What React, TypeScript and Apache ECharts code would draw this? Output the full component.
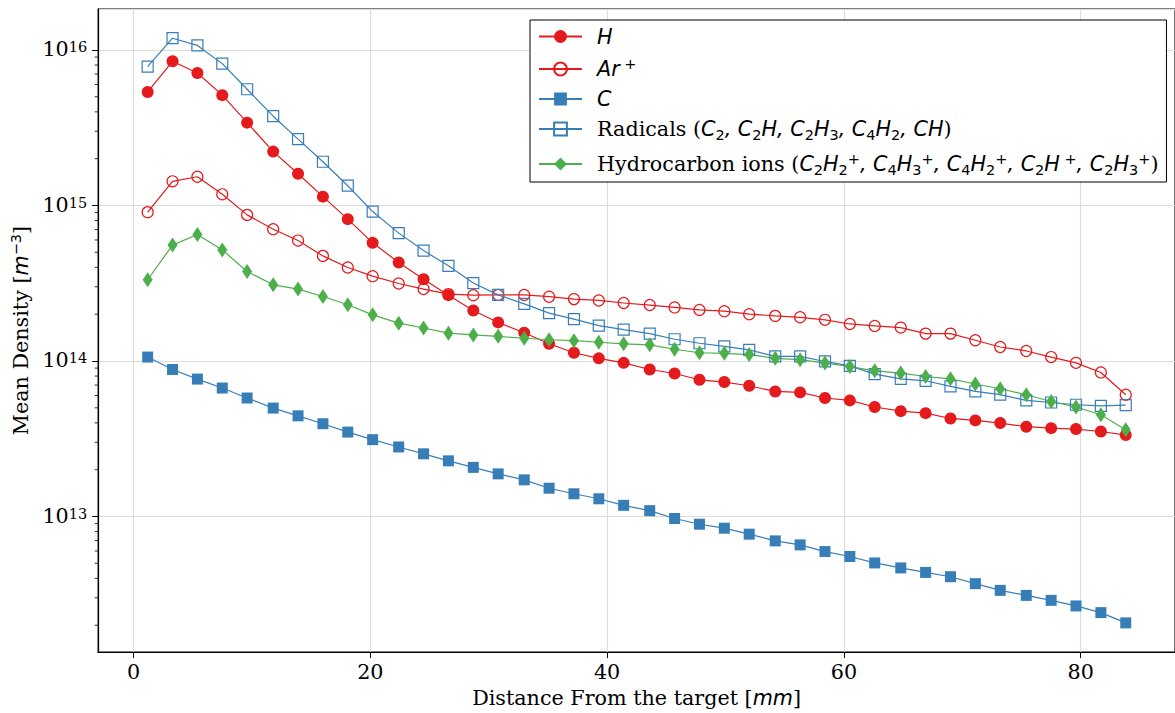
import React, { useEffect, useRef } from "react";
import * as echarts from "echarts";

// Distance from the target [mm]
const DISTANCE_MM = [
  1.2, 3.3, 5.4, 7.5, 9.6, 11.8, 13.9, 16.0, 18.1, 20.2, 22.4, 24.5, 26.6, 28.7,
  30.8, 33.0, 35.1, 37.2, 39.3, 41.4, 43.6, 45.7, 47.8, 49.9, 52.0, 54.2, 56.3,
  58.4, 60.5, 62.6, 64.8, 66.9, 69.0, 71.1, 73.2, 75.4, 77.5, 79.6, 81.7, 83.8,
];

// Mean densities [m^-3]
const H_DENSITY = [
  5.37e15, 8.46e15, 7.11e15, 5.12e15, 3.41e15, 2.22e15, 1.6e15, 1.14e15, 8.17e14,
  5.75e14, 4.3e14, 3.36e14, 2.65e14, 2.11e14, 1.77e14, 1.52e14, 1.29e14, 1.13e14,
  1.04e14, 9.73e13, 8.82e13, 8.31e13, 7.57e13, 7.32e13, 6.93e13, 6.37e13, 6.28e13,
  5.78e13, 5.58e13, 5.06e13, 4.76e13, 4.62e13, 4.27e13, 4.15e13, 3.99e13, 3.78e13,
  3.7e13, 3.65e13, 3.52e13, 3.34e13,
];
const AR_ION_DENSITY = [
  9.06e14, 1.43e15, 1.53e15, 1.18e15, 8.7e14, 7.04e14, 5.95e14, 4.74e14, 3.99e14,
  3.51e14, 3.15e14, 2.9e14, 2.69e14, 2.65e14, 2.66e14, 2.66e14, 2.59e14, 2.5e14,
  2.45e14, 2.36e14, 2.29e14, 2.21e14, 2.13e14, 2.09e14, 2.0e14, 1.95e14, 1.91e14,
  1.84e14, 1.73e14, 1.68e14, 1.64e14, 1.5e14, 1.5e14, 1.36e14, 1.23e14, 1.16e14,
  1.06e14, 9.73e13, 8.44e13, 6.07e13,
];
const C_DENSITY = [
  1.06e14, 8.82e13, 7.65e13, 6.7e13, 5.78e13, 4.98e13, 4.44e13, 3.95e13, 3.49e13,
  3.12e13, 2.8e13, 2.53e13, 2.28e13, 2.07e13, 1.88e13, 1.72e13, 1.52e13, 1.4e13,
  1.3e13, 1.18e13, 1.09e13, 9.71e12, 8.92e12, 8.41e12, 7.7e12, 6.97e12, 6.57e12,
  5.95e12, 5.53e12, 5.03e12, 4.67e12, 4.37e12, 4.1e12, 3.7e12, 3.35e12, 3.11e12,
  2.89e12, 2.66e12, 2.41e12, 2.07e12,
];
const RADICALS_DENSITY = [
  7.81e15, 1.19e16, 1.07e16, 8.17e15, 5.59e15, 3.75e15, 2.67e15, 1.91e15, 1.34e15,
  9.14e14, 6.64e14, 5.13e14, 4.09e14, 3.17e14, 2.66e14, 2.33e14, 2.03e14, 1.86e14,
  1.69e14, 1.59e14, 1.5e14, 1.38e14, 1.3e14, 1.24e14, 1.18e14, 1.07e14, 1.07e14,
  9.93e13, 9.31e13, 8.24e13, 7.68e13, 7.46e13, 6.86e13, 6.37e13, 6.07e13, 5.58e13,
  5.41e13, 5.23e13, 5.15e13, 5.21e13,
];
const HYDROCARBON_ION_DENSITY = [
  3.33e14, 5.56e14, 6.5e14, 5.18e14, 3.76e14, 3.09e14, 2.9e14, 2.6e14, 2.3e14,
  1.98e14, 1.75e14, 1.63e14, 1.51e14, 1.47e14, 1.44e14, 1.4e14, 1.37e14, 1.35e14,
  1.32e14, 1.29e14, 1.27e14, 1.19e14, 1.13e14, 1.12e14, 1.1e14, 1.04e14, 1.02e14,
  9.69e13, 9.22e13, 8.65e13, 8.36e13, 7.95e13, 7.68e13, 7.11e13, 6.63e13, 6.07e13,
  5.49e13, 5.06e13, 4.51e13, 3.61e13,
];

const SERIES_NAMES = ["H", "Ar+", "C", "Radicals", "Hydrocarbon ions"];

// axis limits
const X_MIN = -2.98;
const X_MAX = 87.96;
const Y_MIN = 1.343e12;
const Y_MAX = 1.834e16;

// log-axis minor ticks
const DECADES = [12, 13, 14, 15, 16];
const MINOR_MANTISSAS = [2, 3, 4, 5, 6, 7, 8, 9];

const RED = "#e41a1c";
const BLUE = "#377eb8";
const GREEN = "#4daf4a";

const SERIF = "DejaVu Serif";
const SANS = "DejaVu Sans";
const FS = 20.7;
const FS_SMALL = 14.5;

const LEGEND_LABELS: Record<string, string> = {
  H: "{i|H}",
  "Ar+": "{i|Ar}{sup| +}",
  C: "{i|C}",
  Radicals:
    "{r|Radicals (}{i|C}{sub|2}{i|, C}{sub|2}{i|H, C}{sub|2}{i|H}{sub|3}{i|, C}{sub|4}{i|H}{sub|2}{i|, CH}{r|)}",
  "Hydrocarbon ions":
    "{r|Hydrocarbon ions (}{i|C}{sub|2}{i|H}{sub|2}{sup|+}{i|, C}{sub|4}{i|H}{sub|3}{sup|+}{i|, C}{sub|4}{i|H}{sub|2}{sup|+}{i|, C}{sub|2}{i|H}{sup| +}{i|, C}{sub|2}{i|H}{sub|3}{sup|+}{r|)}",
};

const textRich = {
  r: { fontFamily: SERIF, fontSize: FS, lineHeight: 26, color: "#000" },
  i: { fontFamily: SANS, fontStyle: "italic", fontSize: FS, lineHeight: 26, color: "#000" },
  sub: { fontFamily: SANS, fontSize: FS_SMALL, lineHeight: 14, verticalAlign: "bottom", color: "#000" },
  sup: { fontFamily: SANS, fontSize: FS_SMALL, lineHeight: 14, verticalAlign: "top", color: "#000" },
};

export default function App() {
  const ref = useRef<HTMLDivElement>(null);

  useEffect(() => {
    if (!ref.current) return;
    const chart = echarts.init(ref.current, null, { renderer: "svg" });

    const pairs = (ys: number[]) => DISTANCE_MM.map((x, i) => [x, ys[i]]);

    const minorTicks: number[][] = [];
    DECADES.forEach((d) =>
      MINOR_MANTISSAS.forEach((m) => {
        const v = m * Math.pow(10, d);
        if (v > Y_MIN && v < Y_MAX) minorTicks.push([X_MIN, v]);
      })
    );

    const lineBase = {
      type: "line",
      showAllSymbol: true,
      emphasis: { disabled: true },
      z: 3,
    };

    const option: any = {
      animation: false,
      textStyle: { fontFamily: SERIF, color: "#000" },
      grid: {
        left: 97,
        right: -2,
        top: 9,
        bottom: 60,
        show: true,
        borderColor: "#000",
        borderWidth: 1.2,
        backgroundColor: "transparent",
      },
      legend: {
        data: SERIES_NAMES,
        orient: "vertical",
        left: 530,
        top: 20,
        padding: [6, 8, 5, 8],
        itemWidth: 43,
        itemHeight: 16,
        itemGap: 9,
        backgroundColor: "#fff",
        borderColor: "#000",
        borderWidth: 1,
        formatter: (name: string) => LEGEND_LABELS[name] || name,
        textStyle: {
          fontFamily: SERIF,
          fontSize: FS,
          color: "#000",
          padding: [0, 0, 0, 10],
          rich: textRich,
        },
        selectedMode: false,
      },
      xAxis: {
        type: "value",
        min: X_MIN,
        max: X_MAX,
        name: "{r|Distance From the target [}{i|mm}{r|]}",
        nameLocation: "middle",
        nameGap: 27,
        nameTextStyle: { rich: textRich },
        axisLine: { show: true, onZero: false, lineStyle: { color: "#000", width: 1.2 } },
        axisTick: { show: true, length: 6, lineStyle: { color: "#000", width: 1 } },
        axisLabel: {
          showMinLabel: false,
          showMaxLabel: false,
          margin: 9,
          fontFamily: SERIF,
          fontSize: FS,
          color: "#000",
        },
        splitLine: { show: true, lineStyle: { color: "#dcdcdc", width: 1.2 } },
      },
      yAxis: {
        type: "log",
        logBase: 10,
        min: Y_MIN,
        max: Y_MAX,
        name: "{r|Mean Density [}{i|m}{sup|−3}{r|]}",
        nameLocation: "middle",
        nameGap: 60,
        nameTextStyle: { rich: textRich },
        axisLine: { show: true, onZero: false, lineStyle: { color: "#000", width: 1.2 } },
        axisTick: { show: true, length: 6, lineStyle: { color: "#000", width: 1 } },
        axisLabel: {
          showMinLabel: false,
          showMaxLabel: false,
          margin: 11,
          formatter: (v: number) => {
            const l = Math.log10(v);
            const e = Math.round(l);
            if (Math.abs(l - e) > 1e-6) return "";
            return `{b|10}{s|${e}}`;
          },
          rich: {
            b: { fontFamily: SERIF, fontSize: FS, lineHeight: 20, verticalAlign: "bottom", color: "#000" },
            s: { fontFamily: SERIF, fontSize: FS_SMALL, lineHeight: 14, verticalAlign: "top", color: "#000" },
          },
        },
        splitLine: { show: true, lineStyle: { color: "#dcdcdc", width: 1.2 } },
      },
      series: [
        {
          ...lineBase,
          name: "H",
          data: pairs(H_DENSITY),
          symbol: "circle",
          symbolSize: 12,
          itemStyle: { color: RED },
          lineStyle: { color: RED, width: 1.2 },
        },
        {
          ...lineBase,
          name: "Ar+",
          data: pairs(AR_ION_DENSITY),
          symbol: "circle",
          symbolSize: 11,
          itemStyle: { color: "rgba(0,0,0,0)", borderColor: RED, borderWidth: 1.2 },
          lineStyle: { color: RED, width: 1.2 },
        },
        {
          ...lineBase,
          name: "C",
          data: pairs(C_DENSITY),
          symbol: "rect",
          symbolSize: 11,
          itemStyle: { color: BLUE },
          lineStyle: { color: BLUE, width: 1.2 },
        },
        {
          ...lineBase,
          name: "Radicals",
          data: pairs(RADICALS_DENSITY),
          symbol: "rect",
          symbolSize: 11,
          itemStyle: { color: "rgba(0,0,0,0)", borderColor: BLUE, borderWidth: 1.2 },
          lineStyle: { color: BLUE, width: 1.2 },
        },
        {
          ...lineBase,
          name: "Hydrocarbon ions",
          data: pairs(HYDROCARBON_ION_DENSITY),
          symbol: "diamond",
          symbolSize: [10, 15],
          itemStyle: { color: GREEN },
          lineStyle: { color: GREEN, width: 1.2 },
        },
        {
          type: "custom",
          name: "minorTicks",
          silent: true,
          clip: false,
          z: 5,
          data: minorTicks,
          renderItem: (_p: any, api: any) => {
            const pt = api.coord([api.value(0), api.value(1)]);
            return {
              type: "line",
              shape: { x1: pt[0] - 3.5, y1: pt[1], x2: pt[0], y2: pt[1] },
              style: { stroke: "#000", lineWidth: 0.8 },
            };
          },
        },
      ],
    };

    chart.setOption(option);
    return () => chart.dispose();
  }, []);

  return (
    <div
      ref={ref}
      style={{ position: "absolute", left: 0, top: 0, width: 1175, height: 713 }}
    />
  );
}
